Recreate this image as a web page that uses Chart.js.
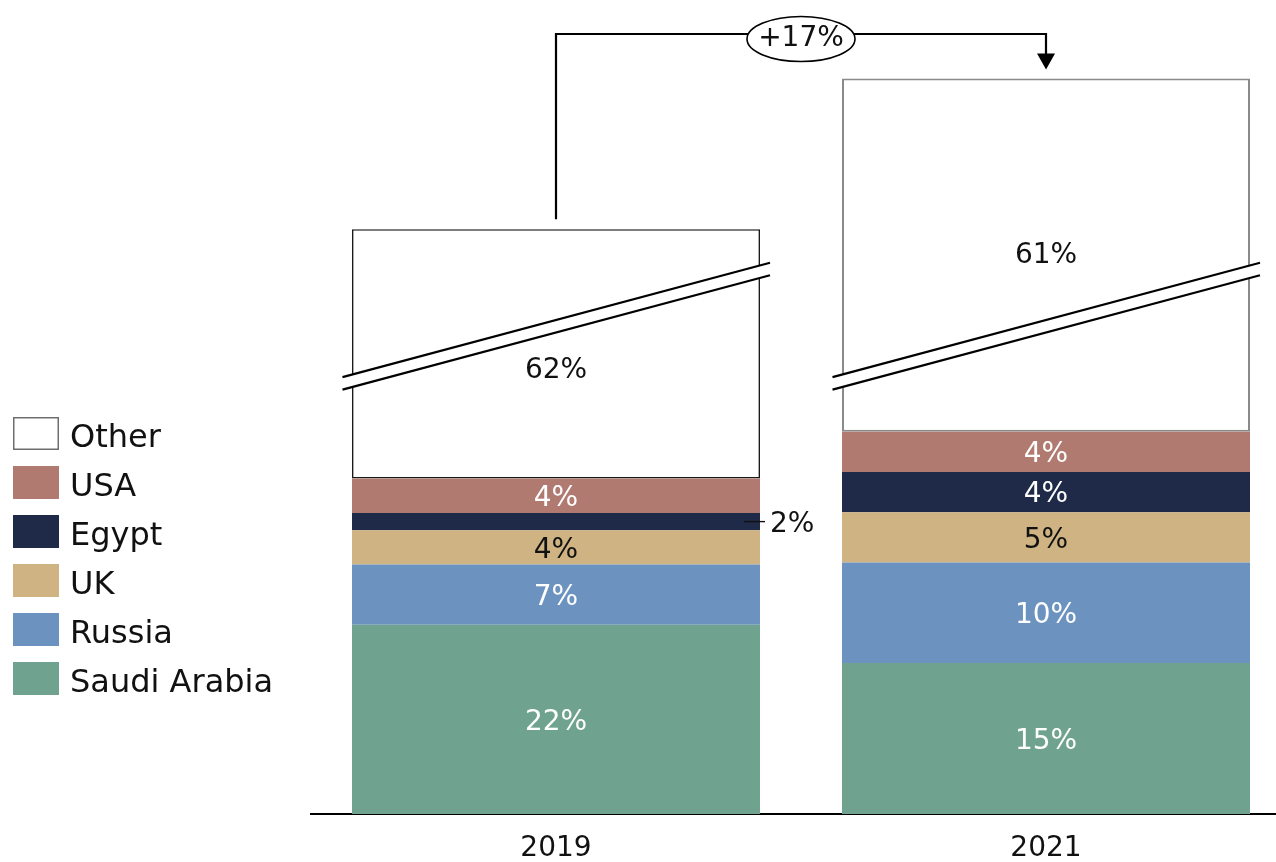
<!DOCTYPE html>
<html>
<head>
<meta charset="utf-8">
<title>Market share by country, 2019 vs 2021</title>
<script src="https://cdn.jsdelivr.net/npm/chart.js@4.4.1/dist/chart.umd.min.js"></script>
<style>
  html, body { margin: 0; padding: 0; background: #fff; overflow: hidden; width: 1276px; height: 862px; }
  #wrap { position: absolute; left: 0; top: 0; width: 1291px; height: 862px; }
</style>
</head>
<body>
<div id="wrap"><canvas id="chart"></canvas></div>
<script>
// ---- data ----
const years = ['2019', '2021'];
const marketIndex = [100, 117];          // total market, 2019 = 100
const saudiArabia = [22, 15];            // share of total, %
const russia      = [7, 10];
const uk          = [4, 5];
const egypt       = [2, 4];
const usa         = [4, 4];
const other       = [62, 61];
const otherHiddenByBreak = [33, 30.3];   // index units of "Other" cut out by the axis break
const growthLabel = '+17%';

// ---- styling ----
const FONT = '"DejaVu Sans", sans-serif';
const TEXT_DARK = '#111111';
const PX_PER_UNIT = 8.6;
const Y_MAX = 93;
const PLOT_BOTTOM = 814;

const series = [
  { name: 'Saudi Arabia', share: saudiArabia, color: '#6fa390', text: '#ffffff' },
  { name: 'Russia',       share: russia,      color: '#6c93bf', text: '#ffffff' },
  { name: 'UK',           share: uk,          color: '#cfb383', text: TEXT_DARK },
  { name: 'Egypt',        share: egypt,       color: '#1f2a48', text: '#ffffff' },
  { name: 'USA',          share: usa,         color: '#b07a70', text: '#ffffff' },
  { name: 'Other',        share: other,       color: '#ffffff', text: TEXT_DARK }
];

function sizeOf(share, i) { return share[i] * marketIndex[i] / 100; }

const datasets = series.map(s => {
  const isOther = s.name === 'Other';
  return {
    label: s.name,
    data: years.map((_, i) => isOther ? sizeOf(s.share, i) - otherHiddenByBreak[i] : sizeOf(s.share, i)),
    backgroundColor: s.color,
    borderColor: isOther ? ['#1a1a1a', '#8a8a8a'] : s.color,
    borderWidth: isOther ? [1.6, 2] : 0,
    borderSkipped: false,
    stack: 'all'
  };
});

// annotation plugin: axis break, value labels, growth arrow, legend
const decor = {
  id: 'decor',
  afterDatasetsDraw(chart) {
    const ctx = chart.ctx;
    const y = chart.scales.y;
    const otherIdx = series.length - 1;
    const otherMeta = chart.getDatasetMeta(otherIdx);

    // axis break across the "Other" bars
    const brkLeft = 50.8, brkRight = 64.1, brkGap = 12.5;
    otherMeta.data.forEach(bar => {
      const xl = bar.x - bar.width / 2 - 9.5;
      const xr = bar.x + bar.width / 2 + 10;
      const yl = y.getPixelForValue(brkLeft);
      const yr = y.getPixelForValue(brkRight);
      ctx.save();
      ctx.fillStyle = '#ffffff';
      ctx.beginPath();
      ctx.moveTo(xl, yl); ctx.lineTo(xr, yr);
      ctx.lineTo(xr, yr + brkGap); ctx.lineTo(xl, yl + brkGap);
      ctx.closePath(); ctx.fill();
      ctx.strokeStyle = '#000000';
      ctx.lineWidth = 2.2;
      ctx.beginPath();
      ctx.moveTo(xl, yl); ctx.lineTo(xr, yr);
      ctx.moveTo(xl, yl + brkGap); ctx.lineTo(xr, yr + brkGap);
      ctx.stroke();
      ctx.restore();
    });

    // value labels
    const LABEL_SIZE = 28;
    const cap = 0.729 * LABEL_SIZE;
    const otherShift = [14, -2];
    ctx.save();
    ctx.font = LABEL_SIZE + 'px ' + FONT;
    ctx.textBaseline = 'alphabetic';
    series.forEach((s, d) => {
      const meta = chart.getDatasetMeta(d);
      meta.data.forEach((bar, i) => {
        const txt = s.share[i] + '%';
        const top = Math.min(bar.y, bar.base), bot = Math.max(bar.y, bar.base);
        let cy = (top + bot) / 2;
        if (d === otherIdx) cy += otherShift[i];
        if (bot - top < 24) {
          // thin segment: label outside with a leader line
          const right = bar.x + bar.width / 2;
          ctx.strokeStyle = TEXT_DARK;
          ctx.lineWidth = 1.4;
          ctx.beginPath();
          ctx.moveTo(right - 16, cy); ctx.lineTo(right + 5, cy);
          ctx.stroke();
          ctx.fillStyle = TEXT_DARK;
          ctx.textAlign = 'left';
          ctx.fillText(txt, right + 10, cy + cap / 2);
        } else {
          ctx.fillStyle = s.text;
          ctx.textAlign = 'center';
          ctx.fillText(txt, bar.x, cy + cap / 2);
        }
      });
    });
    ctx.restore();

    // growth arrow between the two totals
    const b0 = otherMeta.data[0], b1 = otherMeta.data[1];
    const lineY = 34;
    const tipY = b1.y - 9;
    ctx.save();
    ctx.strokeStyle = '#000000';
    ctx.lineWidth = 2.2;
    ctx.beginPath();
    ctx.moveTo(b0.x, b0.y - 10);
    ctx.lineTo(b0.x, lineY);
    ctx.lineTo(b1.x, lineY);
    ctx.lineTo(b1.x, tipY - 15);
    ctx.stroke();
    ctx.fillStyle = '#000000';
    ctx.beginPath();
    ctx.moveTo(b1.x - 9, tipY - 16);
    ctx.lineTo(b1.x + 9, tipY - 16);
    ctx.lineTo(b1.x, tipY);
    ctx.closePath(); ctx.fill();
    const ex = (b0.x + b1.x) / 2, ey = 39;
    ctx.beginPath();
    ctx.ellipse(ex, ey, 54, 22.5, 0, 0, Math.PI * 2);
    ctx.fillStyle = '#ffffff'; ctx.fill();
    ctx.lineWidth = 1.6; ctx.stroke();
    ctx.fillStyle = TEXT_DARK;
    ctx.font = LABEL_SIZE + 'px ' + FONT;
    ctx.textAlign = 'center';
    ctx.textBaseline = 'alphabetic';
    ctx.fillText(growthLabel, ex, 36 + cap / 2);
    ctx.restore();

    // legend, top entry = top of the stack
    const LEG_SIZE = 32;
    ctx.save();
    ctx.font = LEG_SIZE + 'px ' + FONT;
    ctx.textAlign = 'left';
    ctx.textBaseline = 'alphabetic';
    series.slice().reverse().forEach((s, k) => {
      const top = 417 + k * 49;
      ctx.fillStyle = s.color;
      ctx.fillRect(13, top, 46, 33);
      if (s.name === 'Other') {
        ctx.strokeStyle = '#6e6e6e';
        ctx.lineWidth = 1.5;
        ctx.strokeRect(13.75, top + 0.75, 44.5, 31.5);
      }
      ctx.fillStyle = TEXT_DARK;
      ctx.fillText(s.name, 70, top + 30);
    });
    ctx.restore();
  }
};

new Chart(document.getElementById('chart'), {
  type: 'bar',
  data: { labels: years, datasets },
  options: {
    responsive: true,
    maintainAspectRatio: false,
    animation: false,
    layout: { padding: { left: 311, right: 0, top: PLOT_BOTTOM - Y_MAX * PX_PER_UNIT, bottom: 0 } },
    datasets: { bar: { barPercentage: 1, categoryPercentage: 408 / 490 } },
    plugins: { legend: { display: false }, tooltip: { enabled: false } },
    scales: {
      x: {
        stacked: true,
        grid: { display: false, drawTicks: false },
        border: { display: true, color: '#000000', width: 2 },
        ticks: { color: TEXT_DARK, font: { family: FONT, size: 28 }, padding: 18 },
        afterFit(scale) { scale.height = 862 - PLOT_BOTTOM; }
      },
      y: {
        stacked: true,
        display: false,
        min: 0,
        max: Y_MAX
      }
    }
  },
  plugins: [decor]
});
</script>
</body>
</html>
